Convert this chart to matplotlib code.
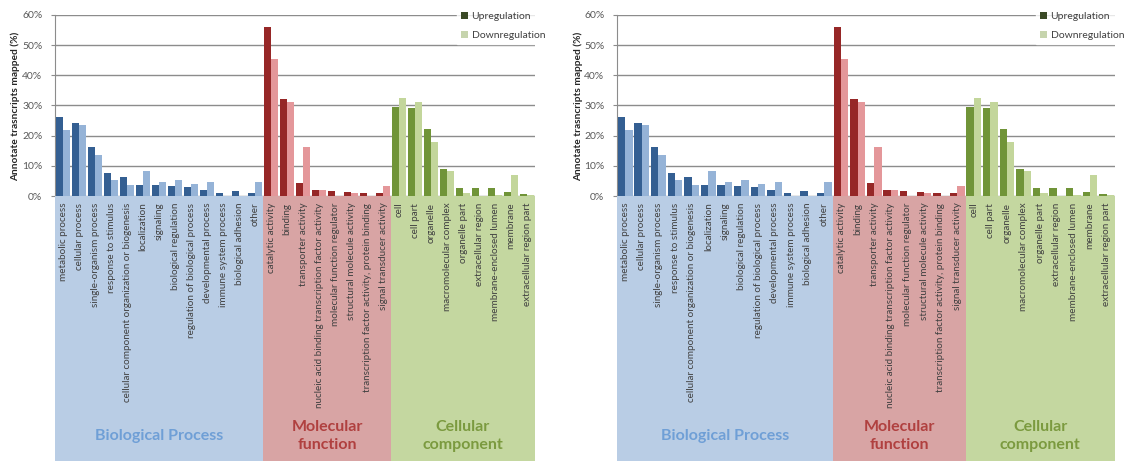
import matplotlib
matplotlib.use("Agg")
import matplotlib.pyplot as plt
from matplotlib.patches import Patch
import numpy as np

plt.rcParams['font.family'] = ['Lato', 'DejaVu Sans']

# GO terms and percentages of annotated transcripts
bp_terms = ["metabolic process", "cellular process", "single-organism process",
            "response to stimulus", "cellular component organization or biogenesis",
            "localization", "signaling", "biological regulation",
            "regulation of biological process", "developmental process",
            "immune system process", "biological adhesion", "other"]
bp_up = [26.1, 24.1, 16.1, 7.6, 6.2, 3.8, 3.8, 3.4, 3.1, 2.0, 1.1, 1.6, 1.1]
bp_down = [21.8, 23.7, 13.6, 5.3, 3.6, 8.2, 4.7, 5.3, 4.0, 4.6, 0.0, 0.0, 4.6]

mf_terms = ["catalytic activity", "binding", "transporter activity",
            "nucleic acid binding transcription factor activity",
            "molecular function regulator", "structural molecule activity",
            "transcription factor activity, protein binding",
            "signal transducer activity"]
mf_up = [55.9, 32.3, 4.4, 2.0, 1.8, 1.4, 1.0, 1.0]
mf_down = [45.3, 31.3, 16.2, 2.0, 0.0, 1.0, 0.0, 3.4]

cc_terms = ["cell", "cell part", "organelle", "macromolecular complex",
            "organelle part", "extracellular region", "membrane-enclosed lumen",
            "membrane", "extracellular region part"]
cc_up = [29.4, 29.2, 22.2, 9.0, 2.8, 2.7, 2.6, 1.4, 0.5]
cc_down = [32.4, 31.1, 17.9, 8.4, 1.0, 0.0, 0.3, 7.0, 0.4]

y_ticks = [0, 10, 20, 30, 40, 50, 60]
legend_labels = ["Upregulation", "Downregulation"]

groups = [
    dict(terms=bp_terms, up=bp_up, down=bp_down, name="Biological Process",
         dark="#345f92", light="#95b3d7", band="#b9cde5", text="#6f9fd6"),
    dict(terms=mf_terms, up=mf_up, down=mf_down, name="Molecular\nfunction",
         dark="#962727", light="#e4979a", band="#d8a4a4", text="#b0403f"),
    dict(terms=cc_terms, up=cc_up, down=cc_down, name="Cellular\ncomponent",
         dark="#709438", light="#c3d69b", band="#c4d7a0", text="#7b9a3f"),
]

W, H = 1129, 461
fig = plt.figure(figsize=(W / 100, H / 100), dpi=100)


def draw_panel(left_px, right_px, ylabel_px, tick_pad, legend_px):
    top_px, base_px = 15, 196
    x0 = left_px / W
    w = (right_px - left_px) / W
    ax = fig.add_axes([x0, (H - base_px) / H, w, (base_px - top_px) / H])
    axb = fig.add_axes([x0, 0, w, (H - base_px) / H])

    n = sum(len(g["terms"]) for g in groups)
    start = 0
    for g in groups:
        k = len(g["terms"])
        idx = np.arange(k) + start
        ax.bar(idx + 0.27, g["up"], width=0.45, color=g["dark"], zorder=3)
        ax.bar(idx + 0.72, g["down"], width=0.45, color=g["light"], zorder=3)
        axb.axvspan(start, start + k, color=g["band"], lw=0)
        for i, term in zip(idx, g["terms"]):
            axb.text(i + 0.5, 0.975, term, rotation=90, ha="center", va="top",
                     fontsize=7.1, color="#404040")
        axb.text(start + k / 2, 0.095, g["name"], ha="center", va="center",
                 fontsize=11.5, fontweight="bold", color=g["text"],
                 linespacing=1.4)
        start += k

    ax.set_xlim(0, n)
    ax.set_ylim(0, 60)
    ax.set_yticks(y_ticks)
    ax.set_yticklabels([f"{t}%" for t in y_ticks])
    ax.tick_params(axis="y", labelsize=7.5, labelcolor="#595959", length=3,
                   color="#8c8c8c", pad=tick_pad)
    ax.set_xticks([])
    ax.yaxis.grid(True, color="#8c8c8c", lw=1, zorder=0)
    ax.set_axisbelow(True)
    for s in ("top", "right", "bottom"):
        ax.spines[s].set_visible(False)
    ax.spines["left"].set_color("#8c8c8c")
    ax.patch.set_alpha(0)

    axb.set_xlim(0, n)
    axb.set_ylim(0, 1)
    axb.axis("off")

    fig.text(ylabel_px / W, (H - 106) / H, "Annotate trasncripts mapped (%)",
             rotation=90, ha="center", va="center", fontsize=7.3,
             fontweight="bold", color="#262626")

    handles = [Patch(facecolor="#3b4a26", edgecolor="none"),
               Patch(facecolor="#c6d4ad", edgecolor="none")]
    leg = ax.legend(handles, legend_labels, loc="upper left",
                    bbox_to_anchor=(legend_px / W, (H - 8) / H),
                    bbox_transform=fig.transFigure, frameon=True,
                    fontsize=7.5, handlelength=0.7, handleheight=0.7,
                    handletextpad=0.35, labelspacing=0.95, borderpad=0.35,
                    borderaxespad=0, fancybox=False)
    leg.get_frame().set_facecolor("white")
    leg.get_frame().set_edgecolor("white")
    for t in leg.get_texts():
        t.set_color("#404040")


draw_panel(55, 535, 15, 6, 457)
draw_panel(617, 1115, 578, 6, 1036)

fig.savefig("out.png", dpi=100)
